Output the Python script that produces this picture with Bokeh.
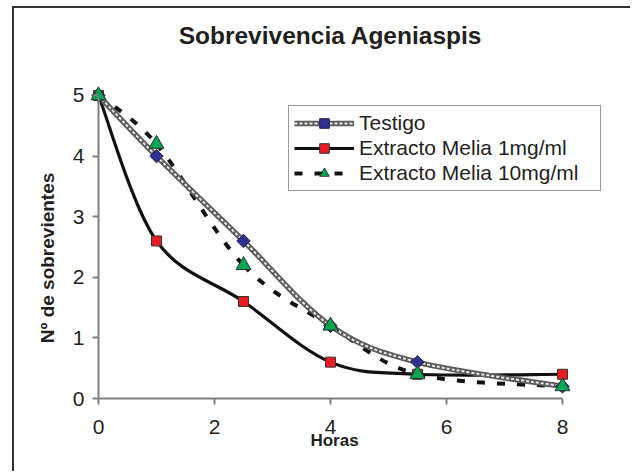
import numpy as np
from bokeh.plotting import figure
from bokeh.models import Range1d, Legend, LegendItem, Label, ColumnDataSource, FixedTicker
from bokeh.embed import file_html
from bokeh.resources import INLINE

# ---- data ----
horas = [0, 1, 2.5, 4, 5.5, 8]
testigo = [5, 4, 2.6, 1.2, 0.6, 0.2]
melia_1 = [5, 2.6, 1.6, 0.6, 0.4, 0.4]
melia_10 = [5, 4.2, 2.2, 1.2, 0.4, 0.2]
x_ticks = [0, 2, 4, 6, 8]
y_ticks = [0, 1, 2, 3, 4, 5]
series_names = ["Testigo", "Extracto Melia 1mg/ml", "Extracto Melia 10mg/ml"]
title_text = "Sobrevivencia Ageniaspis"
x_label = "Horas"
y_label = "Nº de sobrevientes"

FONT = "Liberation Sans"


def smooth_segments(xs, ys):
    """Bezier control points (Excel-like smoothed line) from the data points."""
    x = np.asarray(xs, float)
    y = np.asarray(ys, float)
    n = len(x) - 1
    xp = np.concatenate([[x[0]], x, [x[-1]]])
    yp = np.concatenate([[y[0]], y, [y[-1]]])
    return ColumnDataSource(dict(
        x0=x[:-1], y0=y[:-1], x1=x[1:], y1=y[1:],
        cx0=x[:-1] + (xp[2:n + 2] - xp[0:n]) / 6.0,
        cy0=y[:-1] + (yp[2:n + 2] - yp[0:n]) / 6.0,
        cx1=x[1:] - (xp[3:n + 3] - xp[1:n + 1]) / 6.0,
        cy1=y[1:] - (yp[3:n + 3] - yp[1:n + 1]) / 6.0,
    ))


# The frame covers almost the whole canvas (white, no outline); the axes are
# pinned at x=0 / y=0 so tick labels and titles sit inside the frame.
p = figure(width=618, height=465, output_backend="svg", toolbar_location=None,
           x_range=Range1d(-1.3793, 9.1724), y_range=Range1d(-1.1716, 6.4026),
           min_border_left=4, min_border_right=2, min_border_top=2, min_border_bottom=4)
p.margin = (6, 0, 0, 12)
p.styles = {"border-top": "2px solid #333", "border-left": "2px solid #333",
            "border-right": "none", "border-bottom": "none"}
p.outline_line_color = None
p.background_fill_color = "white"
p.border_fill_color = "white"
p.xgrid.visible = False
p.ygrid.visible = False

for ax, ticks in ((p.xaxis, x_ticks), (p.yaxis, y_ticks)):
    ax.ticker = FixedTicker(ticks=ticks)
    ax.minor_tick_line_color = None
    ax.axis_line_color = "#808080"
    ax.axis_line_width = 2
    ax.major_tick_line_color = "#808080"
    ax.major_tick_line_width = 2
    ax.major_tick_out = 6
    ax.major_tick_in = 0
    ax.major_label_text_font = FONT
    ax.major_label_text_font_size = "21px"
    ax.major_label_text_color = "#231F20"

p.xaxis.fixed_location = 0
p.yaxis.fixed_location = 0
p.xaxis.bounds = (x_ticks[0], x_ticks[-1])
p.yaxis.bounds = (y_ticks[0], y_ticks[-1])
p.xaxis.major_label_standoff = 15
p.yaxis.major_label_standoff = 8

# ---- series ----
src_t = smooth_segments(horas, testigo)
src_1 = smooth_segments(horas, melia_1)
src_10 = smooth_segments(horas, melia_10)

bz_args = dict(x0="x0", y0="y0", x1="x1", y1="y1", cx0="cx0", cy0="cy0", cx1="cx1", cy1="cy1")

r1_line = p.bezier(source=src_1, line_color="#111111", line_width=3.2, **bz_args)
r10_line = p.bezier(source=src_10, line_color="#111111", line_width=4, line_dash="8 12", **bz_args)
rt_outer = p.bezier(source=src_t, line_color="#5a5a5a", line_width=5.5, **bz_args)
rt_inner = p.bezier(source=src_t, line_color="#e8e8e8", line_width=2, line_dash="3 2", **bz_args)

r1_mk = p.scatter(horas, melia_1, marker="square", size=10, fill_color="#ED1C24",
                  line_color="#333333", line_width=1)
rt_mk = p.scatter(horas, testigo, marker="square", angle=np.pi / 4, size=9.5,
                  fill_color="#2E3192", line_color="#222244", line_width=1)
r10_mk = p.scatter(horas, melia_10, marker="triangle", size=15, fill_color="#00A651",
                   line_color="#333333", line_width=1)

legend = Legend(items=[
    LegendItem(label=series_names[0], renderers=[rt_outer, rt_inner, rt_mk]),
    LegendItem(label=series_names[1], renderers=[r1_line, r1_mk]),
    LegendItem(label=series_names[2], renderers=[r10_line, r10_mk]),
], location=(270, 278.5))
legend.border_line_color = "#333333"
legend.border_line_width = 1.5
legend.background_fill_color = "white"
legend.background_fill_alpha = 1
legend.label_text_font = FONT
legend.label_text_font_size = "21px"
legend.label_text_color = "#231F20"
legend.glyph_width = 60
legend.glyph_height = 24
legend.label_height = 24
legend.label_width = 236
legend.spacing = 1
legend.padding = 5
legend.margin = 0
legend.label_standoff = 5
p.add_layout(legend)

title = Label(x=312, y=434, x_units="screen", y_units="screen", text=title_text,
              text_font=FONT, text_font_style="bold", text_font_size="24.5px",
              text_align="center", text_baseline="middle", text_color="#231F20")
xlab = Label(x=316, y=29, x_units="screen", y_units="screen", text=x_label,
             text_font=FONT, text_font_style="bold", text_font_size="17px",
             text_align="center", text_baseline="middle", text_color="#231F20")
ylab = Label(x=29, y=211.5, x_units="screen", y_units="screen", text=y_label, angle=np.pi / 2,
             text_font=FONT, text_font_style="bold", text_font_size="19px",
             text_align="center", text_baseline="middle", text_color="#231F20")
for lab in (title, xlab, ylab):
    p.add_layout(lab)

open("out.html", "w").write(file_html(p, INLINE))
